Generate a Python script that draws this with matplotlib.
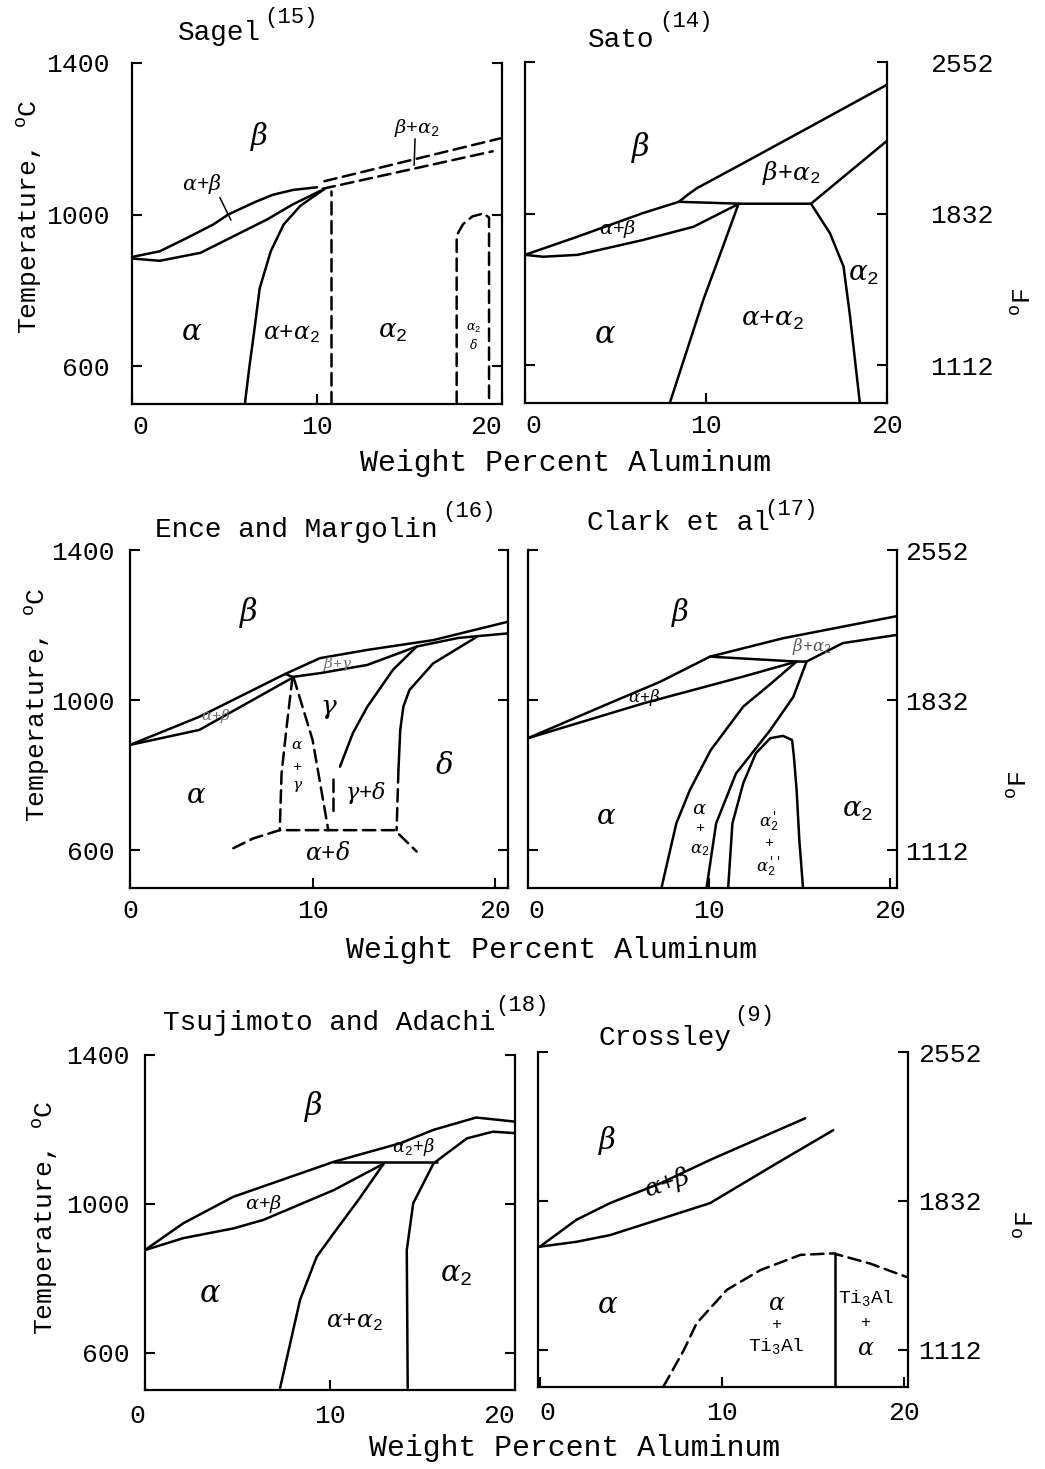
"""Six published Ti-Al phase diagrams (Ti-rich end) drawn side by side."""

import matplotlib

matplotlib.use("Agg")
import matplotlib.pyplot as plt

W, H, DPI = 1045, 1469, 100

plt.rcParams["font.family"] = ["Liberation Mono", "DejaVu Sans Mono"]
plt.rcParams["mathtext.fontset"] = "custom"
plt.rcParams["mathtext.rm"] = "Liberation Mono"
plt.rcParams["mathtext.it"] = "DejaVu Serif:italic"
plt.rcParams["mathtext.bf"] = "Liberation Mono:bold"

# ------------------------------------------------------------------ data
X_TICKS = [0, 10, 20]
C_TICKS = [600, 1000, 1400]
F_TICKLABELS = ["1112", "1832", "2552"]
XLABEL = "Weight Percent Aluminum"
YLABEL = r"Temperature, $^{\mathrm{o}}$C"
FLABEL = r"$^{\mathrm{o}}$F"
TITLES = ["Sagel", "Sato", "Ence and Margolin", "Clark et al", "Tsujimoto and Adachi", "Crossley"]
REFS = ["(15)", "(14)", "(16)", "(17)", "(18)", "(9)"]

# Sagel (15)
sagel_transus = [(0, 888), (1.5, 903), (3.0, 939), (4.4, 974), (5.2, 1000), (6.6, 1032),
                 (7.6, 1052), (8.7, 1065), (10.0, 1072)]
sagel_lens_lower = [(0, 884), (1.5, 878), (3.7, 899), (5.5, 943), (7.3, 987), (8.7, 1027), (10.2, 1063)]
sagel_solvus = [(6.1, 500), (6.35, 600), (6.6, 690), (6.9, 805), (7.5, 903), (8.2, 974),
                (9.1, 1023), (10.0, 1054), (10.4, 1067)]
sagel_dash_vertical = [(10.75, 500), (10.75, 1063)]
sagel_dash_upper = [(10.4, 1088), (19.9, 1201)]
sagel_dash_lower = [(10.3, 1068), (19.5, 1167)]
sagel_dash_cap = [(17.55, 500), (17.55, 945), (17.9, 975), (18.4, 995), (19.0, 1003), (19.3, 992), (19.3, 500)]
sagel_leader_ab = [(4.75, 1045), (5.35, 985)]
sagel_leader_ba2 = [(15.3, 1200), (15.25, 1130)]

# Sato (14)
sato_beta_line = [(8.5, 1031), (9.0, 1050), (9.5, 1067), (12.1, 1134), (15.75, 1229), (20, 1340)]
sato_lens_upper = [(0, 891), (2.9, 939), (4.7, 970), (6.5, 1001), (8.5, 1031)]
sato_lens_lower = [(0, 891), (1.0, 886), (2.9, 891), (6.5, 930), (9.3, 965), (11.7, 1023)]
sato_isotherm = [(8.5, 1031), (11.9, 1026), (15.8, 1026)]
sato_a2_upper = [(15.8, 1026), (20, 1192)]
sato_a_a2_left = [(11.8, 1026), (10.8, 895), (9.85, 772), (8.0, 500)]
sato_a2_right = [(15.8, 1026), (16.85, 948), (17.6, 860), (17.96, 728), (18.5, 500)]

# Ence and Margolin (16)
ence_transus = [(0, 881), (3.8, 956), (8.5, 1070), (10.4, 1112), (13.0, 1134), (16.6, 1160), (20.7, 1209)]
ence_lens_lower = [(0, 881), (3.8, 921), (8.9, 1060)]
ence_gamma_top = [(8.5, 1070), (8.9, 1062), (10.4, 1072), (13.0, 1094), (15.7, 1143), (18.0, 1166), (20.7, 1178)]
ence_gamma_solvus = [(15.7, 1143), (14.4, 1081), (13.0, 983), (12.2, 912), (11.5, 823)]
ence_delta_solvus = [(19.0, 1169), (16.6, 1098), (15.3, 1027), (14.97, 983), (14.8, 921), (14.7, 814)]
ence_delta_dash = [(14.7, 814), (14.6, 654)]
ence_eutectoid = [(5.66, 606), (6.75, 632), (8.2, 654), (14.5, 654), (15.7, 597)]
ence_v_left = [(8.9, 1062), (8.6, 939), (8.3, 805), (8.2, 654)]
ence_v_right = [(8.95, 1062), (10.0, 894), (10.86, 654)]
ence_bar = [(11.1, 790), (11.1, 700)]

# Clark et al (17)
clark_transus = [(0, 899), (4.5, 992), (7.3, 1049), (10.06, 1116), (14.1, 1165), (20.4, 1224)]
clark_lens_lower = [(0, 899), (6.4, 992), (11.9, 1063), (14.85, 1103)]
clark_isotherm = [(10.06, 1116), (14.85, 1103), (15.4, 1103)]
clark_a2_upper = [(15.4, 1103), (17.4, 1152), (20.4, 1174)]
clark_a_solvus = [(14.85, 1103), (13.4, 1043), (11.9, 983), (10.1, 867), (8.95, 761), (8.2, 672), (7.39, 503)]
clark_a2_solvus = [(15.4, 1103), (14.67, 1009), (13.4, 921), (11.5, 805), (10.4, 672), (9.88, 503)]
clark_dome = [(11.07, 503), (11.3, 672), (11.9, 779), (12.6, 859), (13.4, 899), (14.1, 905), (14.6, 894),
              (14.7, 850), (14.85, 761), (15.0, 628), (15.2, 503)]

# Tsujimoto and Adachi (18)
tsuji_transus = [(0, 876), (2.07, 948), (4.77, 1019), (10.2, 1113), (13.8, 1163), (15.6, 1199),
                 (17.9, 1232), (20.0, 1221)]
tsuji_lens_lower = [(0, 876), (2.07, 908), (4.77, 934), (6.4, 957), (10.2, 1037), (12.9, 1108)]
tsuji_isotherm = [(10.2, 1113), (15.8, 1113)]
tsuji_a_solvus = [(12.9, 1108), (11.6, 1015), (10.2, 921), (9.28, 858), (8.38, 742), (7.3, 505)]
tsuji_a2_solvus = [(20.0, 1190), (18.8, 1194), (17.4, 1176), (15.6, 1109), (14.5, 1002), (14.15, 876), (14.2, 505)]

# Crossley (9)
cross_upper = [(0, 877), (2.0, 949), (3.85, 994), (6.6, 1047), (9.34, 1110), (14.56, 1222)]
cross_lower = [(0, 877), (2.0, 890), (3.85, 908), (9.34, 994), (13.0, 1101), (16.1, 1190)]
cross_dome = [(6.78, 501), (7.9, 599), (8.6, 671), (10.26, 761), (12.1, 814), (14.3, 855),
              (16.1, 859), (18.1, 832), (20.1, 796)]
cross_vertical = [(16.2, 859), (16.2, 500)]

# ---------------------------------------------------------------- layout
# panel frames in pixels: left, top, right, bottom
FRAMES = {
    "sagel": (132, 63, 502, 404),
    "sato": (525, 62, 887, 403),
    "ence": (130, 550, 508, 888),
    "clark": (528, 550, 897, 888),
    "tsuji": (145, 1055, 515, 1390),
    "crossley": (538, 1052, 908, 1387),
}
XLIMS = {"sagel": (0, 20), "sato": (0, 20), "ence": (0, 20.7), "clark": (0, 20.4),
         "tsuji": (0, 20), "crossley": (-0.1, 20.2)}
YPADS = {"sagel": 16, "sato": 31, "ence": 11, "clark": 6, "tsuji": 11, "crossley": 7}
XPADS = {"sagel": 8, "sato": 8, "ence": 8, "clark": 8, "tsuji": 10, "crossley": 10}
# alignment of the "0" and "20" labels, which sit a little off their ticks
XTICK_HA = {"sagel": ("left", "right"), "sato": ("left", "center"), "ence": ("center", "center"),
            "clark": ("left", "center"), "tsuji": ("right", "right"), "crossley": ("left", "center")}
# title: left x, baseline y, superscript left x, superscript centre y (pixels)
TITLE_POS = [(178, 40, 264, 17), (588, 47, 659, 22), (155, 537, 442, 511),
             (587, 530, 764, 510), (163, 1030, 495, 1006), (598, 1045, 734, 1016)]

LW = 1.8
DASH = (0, (5, 2.6))

fig = plt.figure(figsize=(W / DPI, H / DPI), dpi=DPI)
fig.patch.set_facecolor("white")


def fig_text(px, py, s, **kw):
    kw.setdefault("fontsize", 20)
    fig.text(px / W, 1 - py / H, s, **kw)


def make_axes(key, left_side):
    l, t, r, b = FRAMES[key]
    ax = fig.add_axes([l / W, 1 - b / H, (r - l) / W, (b - t) / H])
    ax.set_facecolor("none")
    ax.set_xlim(*XLIMS[key])
    ax.set_ylim(500, 1400)
    ax.spines["top"].set_visible(False)
    for side in ("left", "right", "bottom"):
        ax.spines[side].set_linewidth(1.6)
    ax.set_xticks(X_TICKS)
    ax.set_yticks(C_TICKS)
    if not left_side:
        ax.set_yticklabels(F_TICKLABELS)
    ax.tick_params(direction="in", width=1.5, length=7, labelsize=19)
    ax.tick_params(axis="x", top=False, pad=XPADS[key])
    ax.tick_params(axis="y", left=True, right=True, labelleft=left_side,
                   labelright=not left_side, pad=YPADS[key])
    labels = ax.get_xticklabels()
    labels[0].set_horizontalalignment(XTICK_HA[key][0])
    labels[-1].set_horizontalalignment(XTICK_HA[key][1])
    return ax


def curve(ax, pts, dashed=False, lw=LW):
    xs, ys = zip(*pts)
    ax.plot(xs, ys, color="black", lw=lw, ls=DASH if dashed else "-",
            solid_capstyle="round", dash_capstyle="round")


def label(ax, x, t, s, size=19, **kw):
    kw.setdefault("color", "black")
    ax.text(x, t, s, ha="center", va="center", fontsize=size, **kw)


# ------------------------------------------------------------ row 1
ax = make_axes("sagel", True)
for pts in (sagel_transus, sagel_lens_lower, sagel_solvus):
    curve(ax, pts)
for pts in (sagel_dash_vertical, sagel_dash_upper, sagel_dash_lower, sagel_dash_cap):
    curve(ax, pts, dashed=True)
curve(ax, sagel_leader_ab, lw=1.1)
curve(ax, sagel_leader_ba2, lw=1.1)
label(ax, 6.9, 1205, r"$\beta$", 21)
label(ax, 3.8, 1080, r"$\alpha$+$\beta$", 15)
label(ax, 15.4, 1228, r"$\beta$+$\alpha_2$", 14)
label(ax, 3.2, 690, r"$\alpha$", 21)
label(ax, 8.6, 685, r"$\alpha$+$\alpha_2$", 17)
label(ax, 14.1, 690, r"$\alpha_2$", 19)
label(ax, 18.45, 700, r"$\alpha_2$", 9)
label(ax, 18.45, 655, r"$\delta$", 9)

ax = make_axes("sato", False)
for pts in (sato_beta_line, sato_lens_upper, sato_lens_lower, sato_isotherm,
            sato_a2_upper, sato_a_a2_left, sato_a2_right):
    curve(ax, pts)
label(ax, 6.4, 1175, r"$\beta$", 22)
label(ax, 14.7, 1107, r"$\beta$+$\alpha_2$", 18)
label(ax, 5.1, 960, r"$\alpha$+$\beta$", 14)
label(ax, 18.7, 840, r"$\alpha_2$", 20)
label(ax, 13.7, 718, r"$\alpha$+$\alpha_2$", 19)
label(ax, 4.4, 680, r"$\alpha$", 22)

# ------------------------------------------------------------ row 2
ax = make_axes("ence", True)
for pts in (ence_transus, ence_lens_lower, ence_gamma_top, ence_gamma_solvus, ence_delta_solvus):
    curve(ax, pts)
for pts in (ence_delta_dash, ence_eutectoid, ence_v_left, ence_v_right, ence_bar):
    curve(ax, pts, dashed=True)
label(ax, 6.5, 1234, r"$\beta$", 22)
label(ax, 4.7, 958, r"$\alpha$+$\beta$", 11, color="0.45")
label(ax, 11.4, 1097, r"$\beta$+$\gamma$", 11, color="0.45")
label(ax, 10.9, 976, r"$\gamma$", 19)
label(ax, 9.15, 880, r"$\alpha$", 11)
label(ax, 9.15, 823, "+", 11)
label(ax, 9.15, 770, r"$\gamma$", 11)
label(ax, 12.9, 753, r"$\gamma$+$\delta$", 16)
label(ax, 17.2, 824, r"$\delta$", 21)
label(ax, 3.6, 744, r"$\alpha$", 20)
label(ax, 10.8, 592, r"$\alpha$+$\delta$", 17)

ax = make_axes("clark", False)
for pts in (clark_transus, clark_lens_lower, clark_isotherm, clark_a2_upper,
            clark_a_solvus, clark_a2_solvus, clark_dome):
    curve(ax, pts)
label(ax, 8.4, 1234, r"$\beta$", 21)
label(ax, 6.4, 1007, r"$\alpha$+$\beta$", 12)
label(ax, 15.7, 1142, r"$\beta$+$\alpha_2$", 12, color="0.35")
label(ax, 4.3, 690, r"$\alpha$", 20)
label(ax, 9.5, 708, r"$\alpha$", 14)
label(ax, 9.5, 659, "+", 11)
label(ax, 9.5, 601, r"$\alpha_2$", 12)
label(ax, 13.3, 676, r"$\alpha_2'$", 12)
label(ax, 13.3, 619, "+", 11)
label(ax, 13.3, 557, r"$\alpha_2''$", 12)
label(ax, 18.2, 708, r"$\alpha_2$", 20)

# ------------------------------------------------------------ row 3
ax = make_axes("tsuji", True)
for pts in (tsuji_transus, tsuji_lens_lower, tsuji_isotherm, tsuji_a_solvus, tsuji_a2_solvus):
    curve(ax, pts)
label(ax, 9.1, 1262, r"$\beta$", 22)
label(ax, 6.4, 1000, r"$\alpha$+$\beta$", 14)
label(ax, 14.5, 1152, r"$\alpha_2$+$\beta$", 13)
label(ax, 3.5, 757, r"$\alpha$", 22)
label(ax, 11.3, 685, r"$\alpha$+$\alpha_2$", 17)
label(ax, 16.8, 811, r"$\alpha_2$", 21)

ax = make_axes("crossley", False)
for pts in (cross_upper, cross_lower, cross_vertical):
    curve(ax, pts)
curve(ax, cross_dome, dashed=True)
label(ax, 3.7, 1161, r"$\beta$", 21)
label(ax, 7.0, 1046, r"$\alpha$+$\beta$", 18, rotation=18)
label(ax, 3.7, 721, r"$\alpha$", 21)
label(ax, 13.0, 724, r"$\alpha$", 17)
label(ax, 13.0, 668, "+", 12)
label(ax, 13.0, 610, r"Ti$_3$Al", 14)
label(ax, 17.9, 740, r"Ti$_3$Al", 14)
label(ax, 17.9, 673, "+", 12)
label(ax, 17.9, 604, r"$\alpha$", 17)

# ------------------------------------------------------------ text
for title, ref, (tx, ty, sx, sy) in zip(TITLES, REFS, TITLE_POS):
    fig_text(tx, ty, title, va="baseline")
    fig_text(sx, sy, ref, va="center", fontsize=16)

for px, py in ((566, 463), (552, 950), (575, 1448)):
    fig_text(px, py, XLABEL, ha="center", va="center", fontsize=21.5)
for px, py in ((30, 217), (38, 705), (46, 1218)):
    fig_text(px, py, YLABEL, ha="center", va="center", rotation=90, fontsize=19)
for px, py in ((1024, 302), (1020, 785), (1027, 1225)):
    fig_text(px, py, FLABEL, ha="center", va="center", rotation=90, fontsize=19)

fig.savefig("out.png", dpi=DPI)
